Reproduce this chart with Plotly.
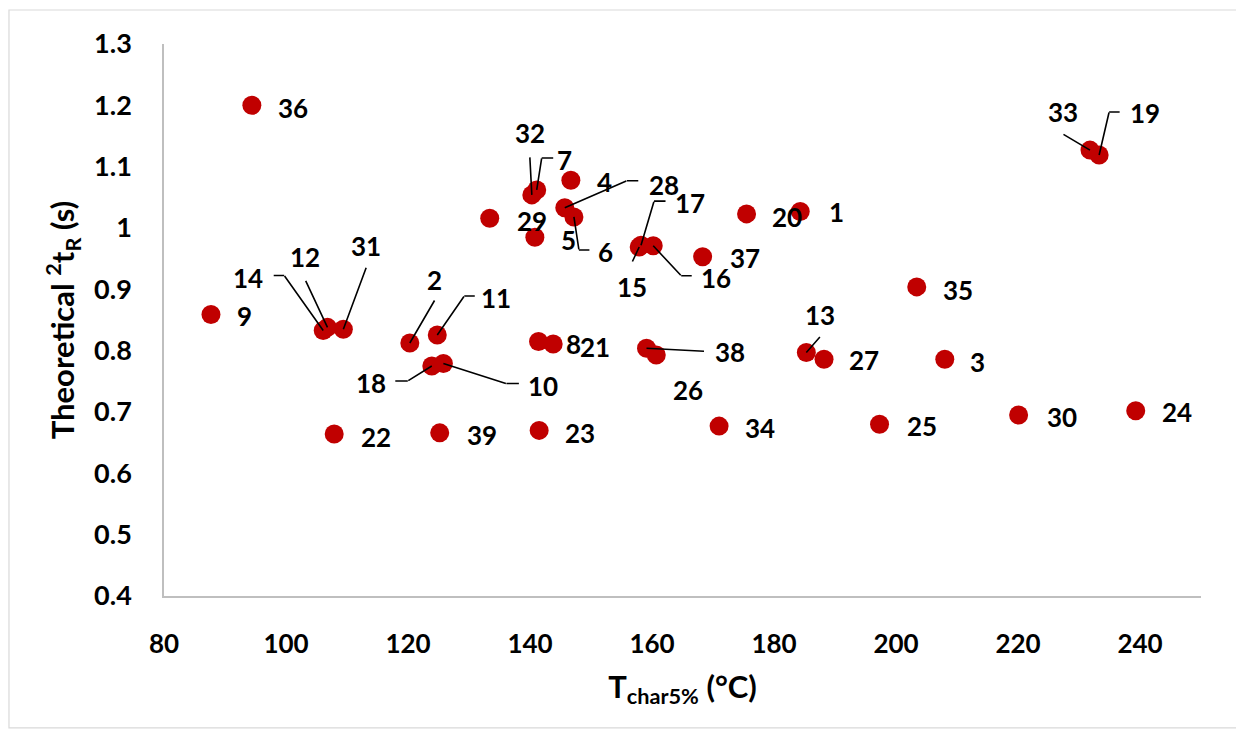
import plotly.graph_objects as go

# ---- data ----
sample_ids = [1, 2, 3, 4, 5, 6, 7, 8, 9, 10,
              11, 12, 13, 14, 15, 16, 17, 18, 19, 20,
              21, 22, 23, 24, 25, 26, 27, 28, 29, 30,
              31, 32, 33, 34, 35, 36, 37, 38, 39]
t_char5 = [184.3, 120.3, 208.0, 146.7, 140.8, 147.2, 141.1, 141.4, 87.7, 125.8,
           124.8, 106.8, 185.3, 106.1, 157.9, 160.2, 158.2, 123.9, 233.3, 175.5,
           143.8, 107.9, 141.5, 239.3, 197.3, 160.7, 188.2, 145.7, 133.4, 220.1,
           109.4, 140.3, 231.8, 171.0, 203.4, 94.4, 168.3, 159.1, 125.2]
theo_2tR = [1.027, 0.8125, 0.786, 1.078, 0.985, 1.018, 1.062, 0.815, 0.859, 0.779,
            0.8255, 0.838, 0.797, 0.833, 0.969, 0.971, 0.972, 0.775, 1.119, 1.023,
            0.811, 0.664, 0.670, 0.702, 0.680, 0.793, 0.786, 1.033, 1.016, 0.695,
            0.835, 1.054, 1.127, 0.677, 0.904, 1.200, 0.953, 0.804, 0.666]

x_tickvals = [80, 100, 120, 140, 160, 180, 200, 220, 240]
y_tickvals = [0.4, 0.5, 0.6, 0.7, 0.8, 0.9, 1.0, 1.1, 1.2, 1.3]
y_ticktext = ["0.4", "0.5", "0.6", "0.7", "0.8", "0.9", "1", "1.1", "1.2", "1.3"]

# ---- label placement (pixel offsets from the marker: dx right, dy down) ----
label_offsets = {
    36: (41, 3), 9: (34, 2), 1: (36, 1), 20: (40, 3), 37: (42, 1), 35: (41, 3),
    27: (40, 1), 3: (33, 3), 25: (42, 2), 30: (43, 2), 24: (41, 1), 22: (42, 3),
    39: (42, 2), 23: (41, 3), 34: (41, 2), 4: (34, 2), 29: (42, 3), 5: (34, 3),
    8: (35, 3), 21: (42, 3), 26: (32, 35),
    13: (14, -38), 33: (-27, -38), 19: (46, -42), 14: (-75, -52), 12: (-22, -70),
    31: (23, -83), 2: (25, -63), 11: (59, -37), 18: (-61, 17), 10: (100, 22),
    32: (-2, -62), 7: (28, -30), 28: (99, -23), 6: (32, 35), 17: (49, -42),
    15: (-7, 40), 16: (63, 32), 38: (83, 4),
}
# leader-line vertices (pixel offsets from the marker)
leaders = {
    13: [(14, -16)],
    33: [(-27, -16)],
    19: [(10, -43), (21, -43)],
    14: [(-39, -55), (-50, -55)],
    12: [(-22, -47)],
    31: [(23, -62)],
    2: [(25, -43)],
    11: [(27, -39), (38, -39)],
    18: [(-24, 15), (-37, 15)],
    10: [(63, 20), (76, 20)],
    32: [(-2, -38)],
    7: [(5, -32), (17, -32)],
    28: [(62, -27), (74, -27)],
    6: [(5, 33), (16, 33)],
    17: [(13, -44), (25, -44)],
    15: [(-7, 15)],
    16: [(28, 30), (39, 30)],
    38: [(58, 3)],
}

RED = "#C00000"
FONT = "Lato"

fig = go.Figure()
fig.add_trace(go.Scatter(
    x=t_char5, y=theo_2tR, mode="markers",
    marker=dict(color=RED, size=19, line=dict(width=0)),
    text=[str(s) for s in sample_ids], hoverinfo="x+y+text", showlegend=False,
))

annotations = []
for sid, xv, yv in zip(sample_ids, t_char5, theo_2tR):
    dx, dy = label_offsets[sid]
    annotations.append(dict(
        x=xv, y=yv, xref="x", yref="y", text=str(sid), showarrow=False,
        xshift=dx, yshift=-dy, xanchor="center", yanchor="middle",
        font=dict(family=FONT, size=26, color="black", weight="bold"),
    ))
    if sid in leaders:
        prev = (0, 0)
        for (vx, vy) in leaders[sid]:
            annotations.append(dict(
                x=xv, y=yv, xref="x", yref="y", text="", showarrow=True,
                arrowhead=0, arrowwidth=1.6, arrowcolor="black", standoff=0,
                borderpad=0, font=dict(size=1),
                xshift=prev[0], yshift=-prev[1],
                ax=vx - prev[0], ay=vy - prev[1],
            ))
            prev = (vx, vy)

fig.update_layout(
    width=1244, height=736,
    margin=dict(l=156, r=51, t=36, b=148),
    paper_bgcolor="white", plot_bgcolor="white",
    font=dict(family=FONT, color="black"),
    annotations=annotations,
    shapes=[dict(type="rect", xref="paper", yref="paper",
                 x0=-0.1495, x1=1.0347, y0=-0.239, y1=1.0616,
                 line=dict(color="#D9D9D9", width=1.2), fillcolor="rgba(0,0,0,0)",
                 layer="below")],
)
fig.update_xaxes(
    range=[80, 250], tickvals=x_tickvals, showgrid=False, zeroline=False,
    showline=True, linecolor="#BFBFBF", linewidth=1.5, ticks="",
    ticklabelstandoff=24,
    tickfont=dict(family=FONT, size=26, color="black", weight="bold"),
    title=dict(text="T<sub>char5%</sub> (°C)", standoff=18,
               font=dict(family=FONT, size=31, color="black", weight="bold")),
)
fig.update_yaxes(
    range=[0.4, 1.3], tickvals=y_tickvals, ticktext=y_ticktext, showgrid=False,
    zeroline=False, showline=True, linecolor="#BFBFBF", linewidth=1.5, ticks="",
    ticklabelstandoff=25,
    tickfont=dict(family=FONT, size=27, color="black", weight="bold"),
    title=dict(text="Theoretical <sup>2</sup>t<sub>R</sub> (s)", standoff=10,
               font=dict(family=FONT, size=31, color="black", weight="bold")),
)

fig.write_html("out.html")
